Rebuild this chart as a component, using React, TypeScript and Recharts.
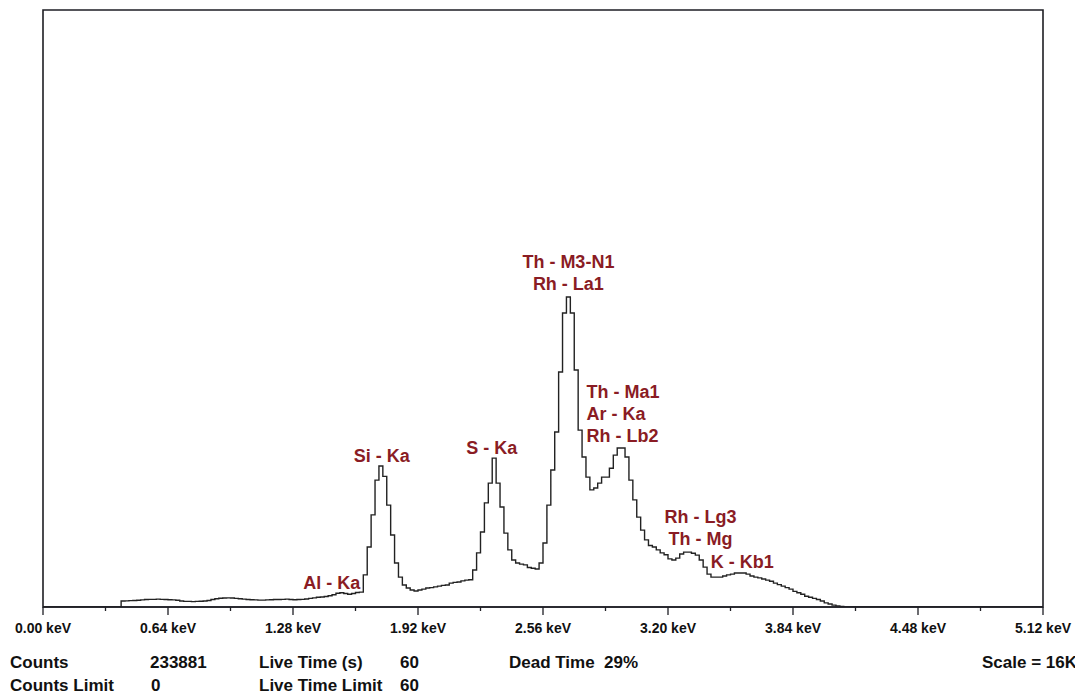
import React from 'react';
import { LineChart, Line, XAxis, YAxis, ReferenceArea, ReferenceDot } from 'recharts';

// EDS spectrum, 0.02 keV per channel, 256 channels (0 - 5.12 keV)
const channelWidth = 0.02;
const counts = [
  0, 0, 0, 0, 0, 0, 0, 0, 0, 0,
  0, 0, 0, 0, 0, 0, 0, 0, 0, 0,
  160, 165, 170, 175, 180, 190, 200, 205,
  205, 210, 205, 200, 195, 190, 180,
  160, 150, 150, 145, 150, 155, 160, 175,
  200, 220, 235, 240, 245, 240, 230, 220,
  210, 200, 195, 190, 185, 185, 190, 195, 200, 200,
  205, 210, 200, 195, 200, 205, 215, 230, 245,
  260, 270, 280, 300, 330,
  370, 380, 360,
  340, 360, 390,
  400, 860, 1610, 2470, 3400, 3780, 3500, 2730, 1930, 1180,
  800, 590, 510, 455, 430, 455, 480, 510, 520,
  540, 560, 580, 590, 640, 660, 670, 700, 720, 730,
  990, 1450, 2010, 2790, 3320, 3990, 3320, 2680, 1980, 1530,
  1260, 1180, 1150, 1130, 1060, 1040, 1020, 1180, 1715, 2730,
  3670, 4690, 6300, 7880, 8310, 7880, 6350, 4740, 4020, 3480,
  3140, 3190, 3320, 3480, 3480, 3720, 4070, 4260, 4260, 4020,
  3400, 2870, 2410, 2060, 1800, 1650, 1610, 1530, 1450, 1400,
  1290, 1260, 1310, 1420, 1470, 1470, 1440, 1390, 1260, 1070,
  880, 800, 800, 800, 830, 860, 880, 910, 910, 910,
  880, 830, 800, 780, 750, 720, 690, 640, 600, 560,
  520, 480, 420, 380, 340, 290, 260, 230, 200, 160,
  110, 80, 50, 30, 15, 0, 0, 0, 0, 0,
  0, 0, 0, 0, 0, 0, 0, 0, 0, 0,
  0, 0, 0, 0, 0, 0, 0, 0, 0, 0,
  0, 0, 0, 0, 0, 0, 0, 0, 0, 0,
  0, 0, 0, 0, 0, 0, 0, 0, 0, 0,
  0, 0, 0, 0, 0, 0,
];

const majorTicks = [0, 0.64, 1.28, 1.92, 2.56, 3.2, 3.84, 4.48, 5.12];
const minorTicks = [0.32, 0.96, 1.6, 2.24, 2.88, 3.52, 4.16, 4.8];
const scaleMax = 16000;

// anchor = baseline of first line (energy, counts)
const peakLabels = [
  { energy: 1.478, count: 480, lines: ['Al - Ka'], anchor: 'middle' },
  { energy: 1.734, count: 3890, lines: ['Si - Ka'], anchor: 'middle' },
  { energy: 2.297, count: 4100, lines: ['S - Ka'], anchor: 'middle' },
  { energy: 2.69, count: 9085, lines: ['Th - M3-N1', 'Rh - La1'], anchor: 'middle' },
  { energy: 2.783, count: 5600, lines: ['Th - Ma1', 'Ar - Ka', 'Rh - Lb2'], anchor: 'start' },
  { energy: 3.366, count: 2250, lines: ['Rh - Lg3', 'Th - Mg'], anchor: 'middle' },
  { energy: 3.58, count: 1045, lines: ['K - Kb1'], anchor: 'middle' },
];

const infoRow1 = [
  { x: 10, text: 'Counts' },
  { x: 150, text: '233881' },
  { x: 259, text: 'Live Time (s)' },
  { x: 400, text: '60' },
  { x: 509, text: 'Dead Time  29%' },
];
const infoRow2 = [
  { x: 10, text: 'Counts Limit' },
  { x: 151, text: '0' },
  { x: 259, text: 'Live Time Limit' },
  { x: 400, text: '60' },
];
const scaleText = 'Scale = 16K';

const data = counts.map((c, i) => ({ e: +(i * channelWidth).toFixed(2), c }));
data.push({ e: 5.12, c: 0 });

const labelColor = '#8a1c24';
const ink = '#1e1e24';
const font = '"Liberation Sans", Arial, sans-serif';

const EnergyTick = ({ x, y, payload }: any) => {
  const major = majorTicks.includes(payload.value);
  return (
    <g>
      <line x1={x} x2={x} y1={y} y2={y + (major ? 8 : 4)} stroke={ink} strokeWidth={1.3} />
      {major && (
        <text x={x} y={y + 26} textAnchor="middle" fontSize={14} fontWeight="bold" fontFamily={font} fill="#111">
          {payload.value.toFixed(2)} keV
        </text>
      )}
    </g>
  );
};

const PeakLabel = ({ viewBox, lines, anchor }: any) => {
  if (!viewBox) return null;
  const cx = viewBox.x + (viewBox.width || 0) / 2;
  const cy = viewBox.y + (viewBox.height || 0) / 2;
  return (
    <text x={cx} y={cy} textAnchor={anchor} fontSize={18} fontWeight="bold" fontFamily={font} fill={labelColor}>
      {lines.map((l: string, i: number) => (
        <tspan key={i} x={cx} dy={i === 0 ? 0 : 22}>{l}</tspan>
      ))}
    </text>
  );
};

export default function App() {
  return (
    <div style={{ position: 'relative', width: 1075, height: 686, background: '#fff' }}>
      <LineChart width={1067} height={686} data={data} margin={{ top: 2, right: 32, bottom: 57, left: 35 }}>
        <XAxis
          dataKey="e"
          type="number"
          domain={[0, 5.12]}
          ticks={[...majorTicks, ...minorTicks].sort((a, b) => a - b)}
          tick={<EnergyTick />}
          tickLine={false}
          tickSize={0}
          tickMargin={0}
          height={30}
          axisLine={{ stroke: ink, strokeWidth: 1.5 }}
          interval={0}
          allowDataOverflow
        />
        <YAxis hide domain={[0, scaleMax]} type="number" allowDataOverflow />
        <ReferenceArea x1={0} x2={5.12} y1={0} y2={scaleMax} fill="none" stroke={ink} strokeWidth={1.6} ifOverflow="visible" />
        <Line
          type="stepAfter"
          dataKey="c"
          stroke="#222"
          strokeWidth={1.4}
          dot={false}
          isAnimationActive={false}
        />
        {peakLabels.map((p, i) => (
          <ReferenceDot
            key={i}
            x={p.energy}
            y={p.count}
            r={1}
            fill="none"
            stroke="none"
            ifOverflow="visible"
            label={<PeakLabel lines={p.lines} anchor={p.anchor} />}
          />
        ))}
      </LineChart>
      <svg width={1075} height={686} style={{ position: 'absolute', left: 0, top: 0, pointerEvents: 'none' }}>
        <g fontFamily={font} fontWeight="bold" fontSize={17} fill="#111">
          {infoRow1.map((t, i) => (
            <text key={i} x={t.x - 8} y={660} style={{ whiteSpace: 'pre' }}>{t.text}</text>
          ))}
          {infoRow2.map((t, i) => (
            <text key={i} x={t.x - 8} y={683}>{t.text}</text>
          ))}
          <text x={1069} y={660} textAnchor="end">{scaleText}</text>
        </g>
      </svg>
    </div>
  );
}
